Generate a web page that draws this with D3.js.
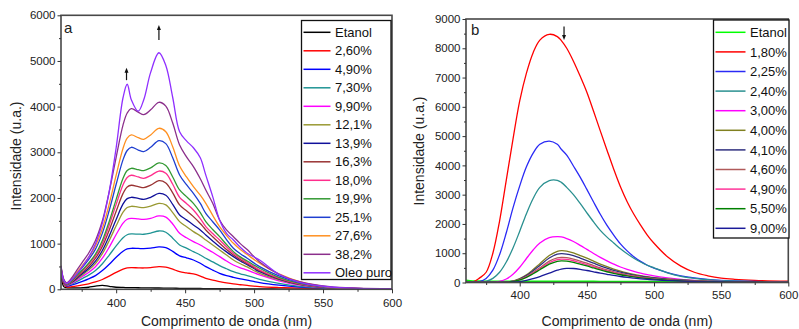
<!DOCTYPE html>
<html>
<head>
<meta charset="utf-8">
<script src="https://cdn.jsdelivr.net/npm/d3@7"></script>
<style>
  body { margin: 0; background: #fff; }
  svg { display: block; font-family: "Liberation Sans", Arial, sans-serif; }
</style>
</head>
<body>
<svg id="chart" width="799" height="329"></svg>
<script>
// ---- panel a : wavelengths (nm) and intensities ----
const waveA = [360, 362, 364, 368, 372, 376, 380, 385, 390, 395, 400, 405, 408, 411, 416, 420, 425, 431, 436, 441,
  446, 451, 456, 461, 465, 470, 475, 480, 485, 490, 495, 504, 518, 533, 555, 575, 600];

const etanolA = [300, 60, 35, 30, 30, 35, 45, 70, 85, 65, 45, 40, 38, 36, 34, 32, 30, 28, 26, 24,
  22, 20, 18, 17, 16, 14, 13, 12, 11, 10, 9, 8, 6, 4, 3, 2, 1];
const a260 = [380, 130, 55, 60, 75, 95, 120, 160, 215, 290, 370, 440, 468, 475, 470, 467, 475, 496, 485, 440,
  387, 360, 336, 290, 241, 200, 168, 140, 117, 100, 85, 58, 38, 25, 12, 6, 3];
const a490 = [400, 150, 75, 95, 135, 180, 230, 300, 410, 550, 700, 835, 885, 898, 894, 890, 900, 927, 910, 830,
  730, 690, 642, 570, 496, 420, 350, 300, 263, 230, 200, 146, 90, 50, 18, 8, 4];
const a730 = [410, 160, 85, 120, 180, 245, 310, 410, 560, 750, 950, 1130, 1195, 1212, 1208, 1205, 1230, 1277, 1250, 1120,
  971, 900, 825, 750, 679, 600, 518, 450, 387, 340, 300, 219, 130, 65, 22, 10, 5];
const a990 = [420, 165, 90, 135, 210, 290, 370, 495, 680, 925, 1200, 1450, 1535, 1555, 1540, 1533, 1555, 1606, 1580, 1430,
  1226, 1130, 1044, 970, 898, 810, 715, 620, 533, 470, 420, 314, 185, 90, 28, 12, 6];
const a121 = [430, 170, 95, 150, 235, 325, 420, 565, 780, 1070, 1390, 1690, 1790, 1818, 1800, 1790, 1820, 1883, 1850, 1680,
  1482, 1370, 1263, 1170, 1080, 970, 861, 750, 642, 560, 490, 350, 205, 100, 30, 13, 6];
const a139 = [440, 175, 100, 160, 255, 355, 455, 615, 850, 1170, 1530, 1870, 1985, 2015, 1990, 1970, 2015, 2100, 2060, 1860,
  1628, 1520, 1409, 1300, 1190, 1060, 934, 820, 715, 620, 540, 387, 225, 110, 33, 14, 7];
const a163 = [450, 180, 105, 170, 280, 390, 500, 680, 940, 1300, 1710, 2100, 2240, 2278, 2250, 2226, 2280, 2380, 2330, 2110,
  1847, 1720, 1591, 1440, 1300, 1150, 1007, 870, 752, 650, 560, 409, 235, 115, 35, 15, 7];
const a180 = [460, 185, 110, 180, 300, 420, 540, 730, 1010, 1410, 1860, 2290, 2450, 2497, 2460, 2430, 2490, 2590, 2540, 2300,
  2015, 1880, 1737, 1550, 1372, 1220, 1080, 930, 788, 680, 590, 423, 245, 120, 35, 15, 8];
const a199 = [470, 190, 115, 190, 315, 440, 570, 770, 1070, 1490, 1970, 2430, 2600, 2650, 2620, 2600, 2660, 2767, 2710, 2460,
  2175, 2030, 1883, 1680, 1482, 1310, 1153, 980, 825, 710, 620, 460, 263, 130, 38, 16, 8];
const a251 = [490, 200, 125, 215, 360, 500, 650, 880, 1230, 1730, 2300, 2840, 3040, 3110, 3050, 3015, 3110, 3256, 3190, 2880,
  2504, 2290, 2102, 1880, 1664, 1480, 1300, 1090, 898, 780, 680, 496, 292, 146, 40, 18, 8];
const a276 = [500, 210, 130, 230, 390, 540, 700, 950, 1330, 1870, 2500, 3090, 3310, 3380, 3320, 3285, 3380, 3526, 3450, 3120,
  2700, 2460, 2248, 2060, 1883, 1620, 1372, 1180, 1007, 870, 760, 570, 336, 168, 44, 20, 10];
const a382 = [520, 220, 140, 260, 440, 615, 790, 1070, 1500, 2140, 2890, 3600, 3860, 3957, 3880, 3825, 3930, 4095, 4010, 3640,
  3160, 2900, 2686, 2420, 2175, 1883, 1518, 1300, 1150, 1000, 870, 600, 330, 170, 58, 25, 12];
const oleoPuro = [500, 200, 130, 220, 360, 520, 700, 1000, 1450, 2150, 3100, 4200, 4490, 4150, 3900, 4150, 4750, 5180, 4900, 4200,
  3450, 3250, 3100, 2880, 2500, 2030, 1518, 1226, 1080, 920, 790, 640, 330, 150, 50, 22, 10];

const labelsA = ['Etanol', '2,60%', '4,90%', '7,30%', '9,90%', '12,1%', '13,9%', '16,3%', '18,0%', '19,9%', '25,1%', '27,6%', '38,2%', 'Oleo puro'];
const colorsA = ['#000000', '#ff0000', '#0000ff', '#1f9494', '#ff00ff', '#999933', '#10109a', '#993333', '#ff2d8c', '#339933', '#1f3fd0', '#ff9020', '#8b2f8b', '#8f2fff'];
const seriesA = [etanolA, a260, a490, a730, a990, a121, a139, a163, a180, a199, a251, a276, a382, oleoPuro];

// ---- panel b ----
const waveB = [360, 365, 370, 375, 380, 385, 390, 395, 400, 405, 410, 415, 422, 428, 431, 435, 440, 445, 450, 455,
  460, 465, 470, 475, 480, 485, 490, 495, 500, 510, 520, 530, 540, 550, 560, 575, 600];

const etanolB = [70, 45, 40, 38, 37, 36, 35, 35, 34, 34, 33, 33, 32, 32, 32, 31, 31, 30, 30, 30,
  29, 29, 28, 28, 28, 27, 27, 27, 26, 26, 25, 25, 24, 24, 23, 22, 20];
const b180 = [0, 10, 150, 350, 1000, 2100, 3500, 4900, 6200, 7150, 7850, 8280, 8477, 8400, 8260, 8000, 7560, 7050, 6500, 5850,
  5180, 4520, 3870, 3270, 2760, 2330, 1960, 1620, 1340, 880, 560, 350, 230, 150, 110, 75, 45];
const b225 = [0, 0, 30, 140, 420, 950, 1700, 2550, 3300, 3950, 4420, 4720, 4830, 4720, 4550, 4350, 3980, 3600, 3180, 2750,
  2330, 1950, 1620, 1320, 1080, 880, 720, 590, 490, 340, 230, 155, 105, 75, 55, 35, 20];
const b240 = [0, 0, 5, 40, 140, 350, 700, 1180, 1750, 2350, 2870, 3250, 3480, 3490, 3420, 3250, 3000, 2700, 2380, 2070,
  1780, 1550, 1350, 1150, 980, 830, 700, 590, 500, 330, 210, 140, 95, 65, 45, 30, 18];
const b300 = [0, 0, 0, 0, 10, 40, 120, 280, 520, 820, 1110, 1350, 1530, 1565, 1555, 1500, 1400, 1270, 1130, 990,
  860, 740, 630, 530, 450, 380, 320, 270, 225, 160, 110, 75, 50, 35, 25, 15, 10];
const b400 = [0, 0, 0, 0, 0, 0, 15, 50, 130, 260, 440, 640, 920, 1065, 1090, 1075, 1010, 920, 830, 730,
  630, 540, 460, 390, 330, 280, 235, 200, 170, 120, 85, 60, 42, 30, 22, 15, 8];
const b410 = [0, 0, 0, 0, 0, 0, 14, 45, 118, 235, 400, 580, 835, 965, 985, 970, 915, 835, 750, 660,
  570, 490, 415, 353, 300, 253, 213, 181, 154, 109, 77, 54, 38, 27, 20, 14, 7];
const b460 = [0, 0, 0, 0, 0, 0, 12, 40, 100, 205, 350, 505, 730, 840, 860, 850, 800, 730, 660, 580,
  500, 430, 365, 310, 262, 222, 187, 158, 135, 95, 67, 47, 33, 24, 17, 12, 6];
const b490 = [0, 0, 0, 0, 0, 0, 11, 37, 95, 190, 323, 470, 676, 783, 800, 787, 743, 676, 610, 537,
  463, 397, 338, 287, 243, 206, 173, 147, 125, 88, 62, 44, 31, 22, 16, 11, 6];
const b550 = [0, 0, 0, 0, 0, 0, 10, 34, 88, 177, 300, 435, 625, 724, 740, 728, 687, 626, 564, 496,
  428, 367, 313, 265, 224, 190, 160, 136, 116, 82, 58, 41, 29, 20, 15, 10, 5];
const b900 = [0, 0, 0, 0, 0, 0, 0, 10, 30, 70, 130, 200, 320, 420, 460, 484, 478, 450, 410, 365,
  320, 280, 240, 205, 175, 150, 127, 108, 92, 66, 47, 34, 24, 17, 12, 8, 4];

const labelsB = ['Etanol', '1,80%', '2,25%', '2,40%', '3,00%', '4,00%', '4,10%', '4,60%', '4,90%', '5,50%', '9,00%'];
const colorsB = ['#00ff00', '#ff0000', '#2a2af5', '#2a9090', '#ff00ff', '#808020', '#30307f', '#b05a5a', '#ff3399', '#008000', '#1a1a99'];
const seriesB = [etanolB, b180, b225, b240, b300, b400, b410, b460, b490, b550, b900];

// arrows: wavelength, value at tail, value at tip
const arrowsA = [[407.5, 4580, 4850], [431, 5460, 5790]];
const arrowsB = [[433, 8740, 8280]];

const svg = d3.select('#chart');

function drawPanel(o) {
  const x = d3.scaleLinear().domain([360, 600]).range([o.left, o.right]);
  const y = d3.scaleLinear().domain([0, o.yMax]).range([o.bottom, o.top]);

  svg.append('clipPath').attr('id', o.id + '-clip')
    .append('rect')
    .attr('x', o.left).attr('y', o.top)
    .attr('width', o.right - o.left).attr('height', o.bottom - o.top);

  const plot = svg.append('g').attr('clip-path', `url(#${o.id}-clip)`);
  const line = d3.line()
    .x((d, i) => x(o.wave[i]))
    .y(d => y(d))
    .curve(d3.curveCatmullRom.alpha(0.5));

  o.series.forEach((vals, i) => {
    plot.append('path')
      .attr('d', line(vals))
      .attr('fill', 'none')
      .attr('stroke', o.colors[i])
      .attr('stroke-width', i === 0 && o.id === 'b' ? 2 : 1.3);
  });

  // frame
  svg.append('rect')
    .attr('x', o.left).attr('y', o.top)
    .attr('width', o.right - o.left).attr('height', o.bottom - o.top)
    .attr('fill', 'none').attr('stroke', '#484848').attr('stroke-width', 1.6);

  // axes (major + minor)
  const xMajor = svg.append('g').attr('transform', `translate(0,${o.bottom})`)
    .call(d3.axisBottom(x).tickValues([400, 450, 500, 550, 600]).tickSize(4).tickSizeOuter(0).tickPadding(o.xPad));
  svg.append('g').attr('transform', `translate(0,${o.bottom})`)
    .call(d3.axisBottom(x).tickValues([375, 425, 475, 525, 575]).tickSize(2.5).tickSizeOuter(0).tickFormat(''));
  const yMajor = svg.append('g').attr('transform', `translate(${o.left},0)`)
    .call(d3.axisLeft(y).tickValues(d3.range(0, o.yMax + 1, 1000)).tickSize(3.5).tickSizeOuter(0).tickPadding(2).tickFormat(d3.format('d')));
  svg.append('g').attr('transform', `translate(${o.left},0)`)
    .call(d3.axisLeft(y).tickValues(d3.range(500, o.yMax, 1000)).tickSize(2).tickSizeOuter(0).tickFormat(''));

  svg.selectAll('.domain').remove();
  svg.selectAll('.tick line').attr('stroke', '#333');
  [xMajor, yMajor].forEach(a => a.selectAll('text')
    .attr('font-size', '11.5px').attr('fill', '#222')
    .attr('font-family', '"Liberation Sans", Arial, sans-serif'));

  // titles
  svg.append('text')
    .attr('x', (o.left + o.right) / 2).attr('y', 326)
    .attr('text-anchor', 'middle').attr('font-size', '14px').attr('fill', '#222')
    .text('Comprimento de onda (nm)');
  svg.append('text')
    .attr('transform', `translate(${o.yTitleX},${o.yTitleY}) rotate(-90)`)
    .attr('text-anchor', 'middle').attr('font-size', '14px').attr('fill', '#222')
    .text('Intensidade (u.a.)');

  svg.append('text')
    .attr('x', o.left + o.letterDx).attr('y', o.top + o.letterDy)
    .attr('font-size', '15px').attr('fill', '#222')
    .text(o.id);

  // arrows
  o.arrows.forEach(([nm, v0, v1]) => {
    const ax = x(nm), y0 = y(v0), y1 = y(v1);
    const dir = y1 < y0 ? 1 : -1;
    svg.append('line')
      .attr('x1', ax).attr('x2', ax).attr('y1', y0).attr('y2', y1 + dir * 3)
      .attr('stroke', '#111').attr('stroke-width', 1.2);
    svg.append('path')
      .attr('d', `M${ax},${y1} L${ax - 2},${y1 + dir * 5} L${ax + 2},${y1 + dir * 5} Z`)
      .attr('fill', '#111');
  });

  // legend
  const lg = o.legend;
  svg.append('rect')
    .attr('x', lg.x).attr('y', lg.y).attr('width', lg.w).attr('height', lg.h)
    .attr('fill', '#fff').attr('stroke', '#111').attr('stroke-width', 1.3);
  o.labels.forEach((lab, i) => {
    const cy = lg.y + lg.first + i * lg.step;
    svg.append('line')
      .attr('x1', lg.x + 2).attr('x2', lg.x + 2 + lg.lineW)
      .attr('y1', cy).attr('y2', cy)
      .attr('stroke', o.colors[i]).attr('stroke-width', 1.5);
    svg.append('text')
      .attr('x', lg.x + lg.textDx).attr('y', cy + 4.6)
      .attr('font-size', '13px').attr('fill', '#111')
      .text(lab);
  });
}

drawPanel({
  id: 'a', wave: waveA, series: seriesA, labels: labelsA, colors: colorsA, arrows: arrowsA,
  left: 61, right: 392, top: 15.3, bottom: 289.3, yMax: 6000, xPad: 5.5,
  yTitleX: 20.5, yTitleY: 156, letterDx: 3, letterDy: 18,
  legend: { x: 301.5, y: 20.5, w: 89.5, h: 259, first: 11.8, step: 18.5, lineW: 27, textDx: 33.5 }
});

drawPanel({
  id: 'b', wave: waveB, series: seriesB, labels: labelsB, colors: colorsB, arrows: arrowsB,
  left: 466, right: 788.3, top: 19, bottom: 282.5, yMax: 9000, xPad: 4.5,
  yTitleX: 424, yTitleY: 151, letterDx: 5, letterDy: 16,
  legend: { x: 713.5, y: 20, w: 75.5, h: 218, first: 12.3, step: 19.6, lineW: 30, textDx: 36.5 }
});
</script>
</body>
</html>
